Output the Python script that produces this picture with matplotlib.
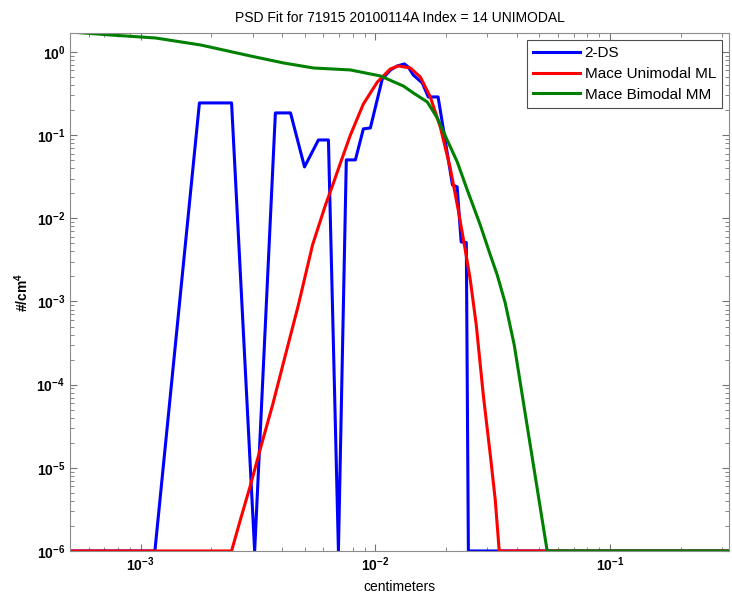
import matplotlib

matplotlib.use("Agg")
import matplotlib.pyplot as plt
from matplotlib.ticker import FixedLocator, NullFormatter

plt.rcParams["font.family"] = ["Liberation Sans", "DejaVu Sans"]
plt.rcParams["mathtext.fontset"] = "custom"
plt.rcParams["mathtext.rm"] = "Liberation Sans:bold"
plt.rcParams["mathtext.it"] = "Liberation Sans:bold"
plt.rcParams["mathtext.bf"] = "Liberation Sans:bold"

TITULO = "PSD Fit for 71915 20100114A Index = 14 UNIMODAL"

# 2-DS (sonda), piso em 1e-6
d_2ds = [5.0e-4, 1.15e-3, 1.78e-3, 2.44e-3, 3.06e-3, 3.75e-3, 4.35e-3, 4.99e-3,
         5.72e-3, 6.31e-3, 6.96e-3, 7.52e-3, 8.22e-3, 8.89e-3, 9.52e-3, 1.07e-2,
         1.16e-2, 1.24e-2, 1.33e-2, 1.38e-2, 1.45e-2, 1.585e-2, 1.68e-2, 1.85e-2,
         2.13e-2, 2.23e-2, 2.32e-2, 2.44e-2, 2.49e-2, 0.32]
n_2ds = [1e-6, 1e-6, 0.244, 0.244, 1e-6, 0.185, 0.185, 0.0415,
         0.0875, 0.0875, 1e-6, 0.0504, 0.0504, 0.119, 0.122, 0.474,
         0.608, 0.679, 0.718, 0.66, 0.529, 0.424, 0.288, 0.288,
         0.0252, 0.0239, 0.0052, 0.0051, 1e-6, 1e-6]

# Ajuste Mace unimodal (ML)
d_uni = [5.0e-4, 2.44e-3, 2.66e-3, 2.94e-3, 3.27e-3, 3.65e-3, 4.14e-3, 4.70e-3,
         5.40e-3, 6.13e-3, 6.63e-3, 7.10e-3, 7.83e-3, 8.89e-3, 1.02e-2, 1.158e-2,
         1.253e-2, 1.409e-2, 1.554e-2, 1.714e-2, 1.89e-2, 2.084e-2, 2.254e-2,
         2.415e-2, 2.537e-2, 2.69e-2, 2.882e-2, 3.087e-2, 3.241e-2, 3.37e-2, 0.32]
n_uni = [1e-6, 1e-6, 2.37e-6, 6.25e-6, 1.89e-5, 5.72e-5, 2.28e-4, 9.1e-4,
         4.79e-3, 1.449e-2, 2.664e-2, 4.634e-2, 0.1006, 0.237, 0.436, 0.625,
         0.679, 0.642, 0.501, 0.288, 0.1255, 4.03e-2, 1.262e-2,
         4.17e-3, 1.818e-3, 5.23e-4, 7.54e-5, 1.433e-5, 4.12e-6, 1e-6, 1e-6]

# Ajuste Mace bimodal (MM)
d_bi = [5.0e-4, 7.45e-4, 1.158e-3, 1.8e-3, 2.938e-3, 4.06e-3, 5.448e-3, 7.825e-3,
        1.05e-2, 1.315e-2, 1.451e-2, 1.664e-2, 1.835e-2, 2.004e-2, 2.233e-2,
        2.463e-2, 2.797e-2, 3.087e-2, 3.304e-2, 3.573e-2, 3.904e-2, 4.222e-2,
        4.749e-2, 5.394e-2, 0.32]
n_bi = [1.74, 1.60, 1.473, 1.214, 0.895, 0.738, 0.642, 0.608,
        0.515, 0.39, 0.3216, 0.2506, 0.161, 0.0925, 0.0476,
        0.02195, 8.33e-3, 3.63e-3, 2.088e-3, 9.62e-4, 3.01e-4, 7.54e-5,
        9.46e-6, 1e-6, 1e-6]

ticks_x = [1e-3, 1e-2, 1e-1]
ticks_y = [1e-6, 1e-5, 1e-4, 1e-3, 1e-2, 1e-1, 1e0]
rotulos_x = [r"$10^{-3}$", r"$10^{-2}$", r"$10^{-1}$"]
rotulos_y = [r"$10^{-6}$", r"$10^{-5}$", r"$10^{-4}$", r"$10^{-3}$",
             r"$10^{-2}$", r"$10^{-1}$", r"$10^{0}$"]

fig = plt.figure(figsize=(7.32, 6.07), dpi=100)
ax = fig.add_axes([0.0956, 0.0923, 0.9003, 0.8533])

ax.plot(d_2ds, n_2ds, color="#0000ff", linewidth=2.2, label="2-DS")
ax.plot(d_uni, n_uni, color="#ff0000", linewidth=2.2, label="Mace Unimodal ML")
ax.plot(d_bi, n_bi, color="#008000", linewidth=2.2, label="Mace Bimodal MM")

ax.set_xscale("log")
ax.set_yscale("log")
ax.set_xlim(5.0e-4, 0.321)
ax.set_ylim(1e-6, 1.69)

minor_x = [m * 10.0 ** e for e in (-4, -3, -2, -1) for m in range(2, 10)]
minor_x = [v for v in minor_x if 5.0e-4 < v < 0.321]
minor_y = [m * 10.0 ** e for e in range(-6, 1) for m in range(2, 10)]
minor_y = [v for v in minor_y if v < 1.69]
ax.set_xticks(ticks_x, rotulos_x)
ax.set_yticks(ticks_y, rotulos_y)
ax.xaxis.set_minor_locator(FixedLocator(minor_x))
ax.yaxis.set_minor_locator(FixedLocator(minor_y))
ax.xaxis.set_minor_formatter(NullFormatter())
ax.yaxis.set_minor_formatter(NullFormatter())

ax.tick_params(which="both", direction="in", top=True, right=True, colors="0.45",
               labelcolor="black", labelsize=10)
ax.tick_params(which="major", length=5, width=0.8)
ax.tick_params(which="minor", length=3, width=0.6)
for lado in ax.spines.values():
    lado.set_color("0.55")
    lado.set_linewidth(0.8)

ax.set_title(TITULO, fontsize=10, pad=8)
ax.set_xlabel("centimeters", fontsize=10)
ax.set_ylabel(r"#/cm$^{4}$", fontsize=10, fontweight="bold")

leg = ax.legend(loc="upper right", fontsize=11, fancybox=False, framealpha=1,
                edgecolor="0.3", borderaxespad=0.45, handlelength=3.1,
                handletextpad=0.3, labelspacing=0.45)
leg.get_frame().set_linewidth(0.8)

fig.savefig("out.png", dpi=100)
